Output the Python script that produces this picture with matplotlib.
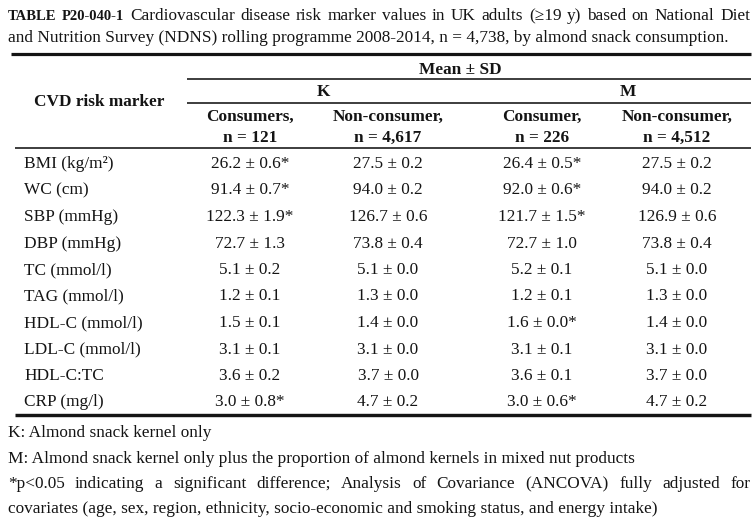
import matplotlib
matplotlib.use("Agg")
import matplotlib.pyplot as plt

# ---------------- data ----------------
title_bold = "TABLE P20-040-1"
title_line1 = "Cardiovascular disease risk marker values in UK adults (≥19 y) based on National Diet"
title_line2 = "and Nutrition Survey (NDNS) rolling programme 2008-2014, n = 4,738, by almond snack consumption."

markers = ["BMI (kg/m²)", "WC (cm)", "SBP (mmHg)", "DBP (mmHg)", "TC (mmol/l)",
           "TAG (mmol/l)", "HDL-C (mmol/l)", "LDL-C (mmol/l)", "HDL-C:TC", "CRP (mg/l)"]

group_labels = ["K", "M"]
col_labels = ["Consumers,", "Non-consumer,", "Consumer,", "Non-consumer,"]
col_n = ["n = 121", "n = 4,617", "n = 226", "n = 4,512"]

k_cons_mean = [26.2, 91.4, 122.3, 72.7, 5.1, 1.2, 1.5, 3.1, 3.6, 3.0]
k_cons_sd = [0.6, 0.7, 1.9, 1.3, 0.2, 0.1, 0.1, 0.1, 0.2, 0.8]
k_cons_sig = [1, 1, 1, 0, 0, 0, 0, 0, 0, 1]

k_non_mean = [27.5, 94.0, 126.7, 73.8, 5.1, 1.3, 1.4, 3.1, 3.7, 4.7]
k_non_sd = [0.2, 0.2, 0.6, 0.4, 0.0, 0.0, 0.0, 0.0, 0.0, 0.2]
k_non_sig = [0, 0, 0, 0, 0, 0, 0, 0, 0, 0]

m_cons_mean = [26.4, 92.0, 121.7, 72.7, 5.2, 1.2, 1.6, 3.1, 3.6, 3.0]
m_cons_sd = [0.5, 0.6, 1.5, 1.0, 0.1, 0.1, 0.0, 0.1, 0.1, 0.6]
m_cons_sig = [1, 1, 1, 0, 0, 0, 1, 0, 0, 1]

m_non_mean = [27.5, 94.0, 126.9, 73.8, 5.1, 1.3, 1.4, 3.1, 3.7, 4.7]
m_non_sd = [0.2, 0.2, 0.6, 0.4, 0.0, 0.0, 0.0, 0.0, 0.0, 0.2]
m_non_sig = [0, 0, 0, 0, 0, 0, 0, 0, 0, 0]

footnotes = [
    "K: Almond snack kernel only",
    "M: Almond snack kernel only plus the proportion of almond kernels in mixed nut products",
    "*p<0.05 indicating a significant difference; Analysis of Covariance (ANCOVA) fully adjusted for",
    "covariates (age, sex, region, ethnicity, socio-economic and smoking status, and energy intake)",
]
footnote_justify = [False, False, True, False]

# ---------------- layout ----------------
W, H, DPI = 756, 521, 100
plt.rcParams["font.family"] = ["Liberation Serif", "DejaVu Serif"]
FS = 12.4
INK = "#141414"

fig = plt.figure(figsize=(W / DPI, H / DPI), dpi=DPI)
fig.patch.set_facecolor("white")
ax = fig.add_axes([0, 0, 1, 1])
ax.set_xlim(0, W)
ax.set_ylim(H, 0)
ax.axis("off")
renderer = fig.canvas.get_renderer()


def words_line(specs, x0, x1, y, justify=True):
    """specs: list of (word, kwargs). Places words, justified between x0 and x1."""
    texts = []
    for w, kw in specs:
        t = ax.text(0, y, w, ha="left", va="baseline", color=INK, **kw)
        texts.append(t)
    fig.canvas.draw()
    widths = [t.get_window_extent(renderer).width for t in texts]
    gap = (x1 - x0 - sum(widths)) / (len(texts) - 1)
    x = x0
    for t, wd in zip(texts, widths):
        t.set_x(x)
        x += wd + gap


# title
spec1 = [(w, dict(fontsize=FS - 1.9, fontweight="bold")) for w in title_bold.split()]
spec1 += [(w, dict(fontsize=FS)) for w in title_line1.split()]
words_line(spec1, 8, 750, 20, justify=True)
ax.text(8, 42, title_line2, fontsize=FS, ha="left", va="baseline", color=INK)

# rules
PX = 72 / DPI
ax.plot([11, 751], [54, 54], color=INK, lw=3.2 * PX, solid_capstyle="butt")
ax.plot([187, 751], [79, 79], color=INK, lw=1.6 * PX, solid_capstyle="butt")
ax.plot([187, 751], [103, 103], color=INK, lw=1.6 * PX, solid_capstyle="butt")
ax.plot([15, 751], [148, 148], color=INK, lw=1.6 * PX, solid_capstyle="butt")
ax.plot([15, 751], [415, 415], color=INK, lw=3.4 * PX, solid_capstyle="butt")

# headers
col_x = [250, 388, 542, 677]
group_x = [323, 628]
ax.text(460, 74, "Mean ± SD", fontsize=FS, fontweight="bold", ha="center", va="baseline", color=INK)
for gx, g in zip(group_x, group_labels):
    ax.text(gx, 96, g, fontsize=FS, fontweight="bold", ha="center", va="baseline", color=INK)
ax.text(99, 106, "CVD risk marker", fontsize=FS, fontweight="bold", ha="center", va="baseline", color=INK)
for cx, lab, n in zip(col_x, col_labels, col_n):
    ax.text(cx, 121, lab, fontsize=FS, fontweight="bold", ha="center", va="baseline", color=INK)
    ax.text(cx, 142, n, fontsize=FS, fontweight="bold", ha="center", va="baseline", color=INK)

# body
columns = [(k_cons_mean, k_cons_sd, k_cons_sig),
           (k_non_mean, k_non_sd, k_non_sig),
           (m_cons_mean, m_cons_sd, m_cons_sig),
           (m_non_mean, m_non_sd, m_non_sig)]
row0, step = 168, 26.5
for i, mk in enumerate(markers):
    y = row0 + i * step
    ax.text(24, y, mk, fontsize=FS, ha="left", va="baseline", color=INK)
    for cx, (means, sds, sigs) in zip(col_x, columns):
        s = f"{means[i]:.1f} ± {sds[i]:.1f}" + ("*" if sigs[i] else "")
        ax.text(cx, y, s, fontsize=FS, ha="center", va="baseline", color=INK)

# footnotes
foot_y = [437, 463, 488, 513]
for fy, txt, just in zip(foot_y, footnotes, footnote_justify):
    if just:
        words_line([(w, dict(fontsize=FS)) for w in txt.split()], 8, 750, fy, justify=True)
    else:
        ax.text(8, fy, txt, fontsize=FS, ha="left", va="baseline", color=INK)

fig.savefig("out.png", dpi=DPI, facecolor="white")
